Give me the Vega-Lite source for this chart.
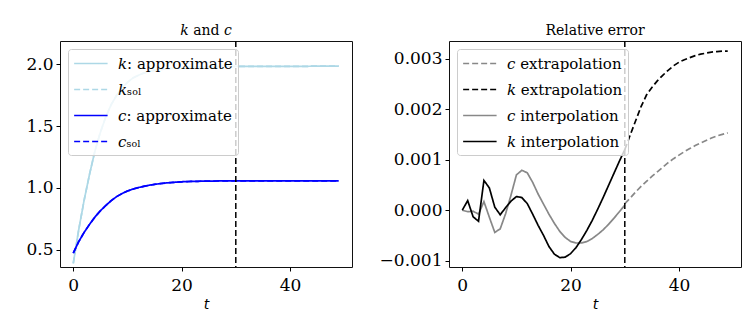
{
  "$schema": "https://vega.github.io/schema/vega-lite/v6.json",
  "background": "white",
  "padding": {"left": 25, "top": 23, "right": 0, "bottom": 0},
  "spacing": 97,
  "bounds": "flush",
  "config": {
    "view": {"stroke": "#111111", "strokeWidth": 1},
    "axis": {"domain": false, "grid": false, "ticks": true, "tickColor": "#000000", "tickSize": 4, "labelFont": "DejaVu Serif", "labelFontSize": 17, "labelColor": "#000000", "labelPadding": 3, "titleFont": "DejaVu Sans", "titleFontStyle": "italic", "titleFontWeight": "normal", "titleFontSize": 14, "titleColor": "#000000", "titlePadding": 4},
    "axisX": {"labelPadding": 6},
    "title": {"font": "DejaVu Serif", "fontSize": 14, "fontWeight": "normal", "color": "#000000", "offset": 2},
    "legend": {"orient": "top-left", "offset": 8, "fillColor": "rgba(255,255,255,0.8)", "strokeColor": "#cccccc", "cornerRadius": 3, "padding": 5, "labelFont": "DejaVu Serif", "labelFontSize": 15, "labelColor": "#000000", "symbolType": "M-1,0H3", "symbolStrokeWidth": 1.6, "symbolSize": 280, "rowPadding": 8, "labelOffset": 26, "labelBaseline": "middle"}
  },
  "datasets": {
    "left": [
      {"t":0,"k":0.39,"ksol":0.39,"c":0.473,"csol":0.473},
      {"t":1,"k":0.66,"ksol":0.66,"c":0.565,"csol":0.565},
      {"t":2,"k":0.90,"ksol":0.90,"c":0.64,"csol":0.64},
      {"t":3,"k":1.11,"ksol":1.11,"c":0.705,"csol":0.705},
      {"t":4,"k":1.30,"ksol":1.30,"c":0.765,"csol":0.765},
      {"t":5,"k":1.45,"ksol":1.45,"c":0.815,"csol":0.815},
      {"t":6,"k":1.575,"ksol":1.575,"c":0.858,"csol":0.858},
      {"t":7,"k":1.675,"ksol":1.675,"c":0.897,"csol":0.897},
      {"t":8,"k":1.75,"ksol":1.75,"c":0.93,"csol":0.93},
      {"t":9,"k":1.81,"ksol":1.81,"c":0.955,"csol":0.955},
      {"t":10,"k":1.855,"ksol":1.855,"c":0.975,"csol":0.975},
      {"t":11,"k":1.89,"ksol":1.89,"c":0.991,"csol":0.991},
      {"t":12,"k":1.912,"ksol":1.912,"c":1.003,"csol":1.003},
      {"t":13,"k":1.93,"ksol":1.93,"c":1.013,"csol":1.013},
      {"t":14,"k":1.943,"ksol":1.943,"c":1.022,"csol":1.022},
      {"t":15,"k":1.952,"ksol":1.952,"c":1.029,"csol":1.029},
      {"t":16,"k":1.959,"ksol":1.959,"c":1.035,"csol":1.035},
      {"t":17,"k":1.964,"ksol":1.964,"c":1.04,"csol":1.04},
      {"t":18,"k":1.968,"ksol":1.968,"c":1.044,"csol":1.044},
      {"t":19,"k":1.971,"ksol":1.971,"c":1.047,"csol":1.047},
      {"t":20,"k":1.974,"ksol":1.974,"c":1.05,"csol":1.05},
      {"t":21,"k":1.976,"ksol":1.976,"c":1.052,"csol":1.052},
      {"t":22,"k":1.978,"ksol":1.978,"c":1.053,"csol":1.053},
      {"t":23,"k":1.979,"ksol":1.979,"c":1.054,"csol":1.054},
      {"t":24,"k":1.98,"ksol":1.98,"c":1.055,"csol":1.055},
      {"t":25,"k":1.981,"ksol":1.981,"c":1.056,"csol":1.056},
      {"t":26,"k":1.982,"ksol":1.982,"c":1.056,"csol":1.056},
      {"t":27,"k":1.982,"ksol":1.982,"c":1.057,"csol":1.057},
      {"t":28,"k":1.983,"ksol":1.983,"c":1.057,"csol":1.057},
      {"t":29,"k":1.983,"ksol":1.983,"c":1.057,"csol":1.057},
      {"t":30,"k":1.984,"ksol":1.984,"c":1.058,"csol":1.058},
      {"t":31,"k":1.984,"ksol":1.984,"c":1.058,"csol":1.058},
      {"t":32,"k":1.984,"ksol":1.984,"c":1.058,"csol":1.058},
      {"t":33,"k":1.985,"ksol":1.985,"c":1.058,"csol":1.058},
      {"t":34,"k":1.985,"ksol":1.985,"c":1.058,"csol":1.058},
      {"t":35,"k":1.985,"ksol":1.985,"c":1.058,"csol":1.058},
      {"t":36,"k":1.985,"ksol":1.985,"c":1.058,"csol":1.058},
      {"t":37,"k":1.985,"ksol":1.985,"c":1.058,"csol":1.058},
      {"t":38,"k":1.985,"ksol":1.985,"c":1.058,"csol":1.058},
      {"t":39,"k":1.985,"ksol":1.985,"c":1.058,"csol":1.058},
      {"t":40,"k":1.985,"ksol":1.985,"c":1.058,"csol":1.058},
      {"t":41,"k":1.985,"ksol":1.985,"c":1.058,"csol":1.058},
      {"t":42,"k":1.985,"ksol":1.985,"c":1.058,"csol":1.058},
      {"t":43,"k":1.985,"ksol":1.985,"c":1.058,"csol":1.058},
      {"t":44,"k":1.986,"ksol":1.986,"c":1.058,"csol":1.058},
      {"t":45,"k":1.986,"ksol":1.986,"c":1.058,"csol":1.058},
      {"t":46,"k":1.986,"ksol":1.986,"c":1.058,"csol":1.058},
      {"t":47,"k":1.986,"ksol":1.986,"c":1.058,"csol":1.058},
      {"t":48,"k":1.986,"ksol":1.986,"c":1.058,"csol":1.058},
      {"t":49,"k":1.986,"ksol":1.986,"c":1.058,"csol":1.058}
    ],
    "right": [
      {"t":0,"cint":0,"kint":0},
      {"t":1,"cint":-0.00003,"kint":0.00019},
      {"t":2,"cint":-0.00002,"kint":-0.00013},
      {"t":3,"cint":-0.00008,"kint":-0.00022},
      {"t":4,"cint":0.00017,"kint":0.00059},
      {"t":5,"cint":-0.00014,"kint":0.00044},
      {"t":6,"cint":-0.00044,"kint":0.00006},
      {"t":7,"cint":-0.00037,"kint":-0.00009},
      {"t":8,"cint":-0.00007,"kint":0.00005},
      {"t":9,"cint":0.0003,"kint":0.00018},
      {"t":10,"cint":0.0007,"kint":0.00027},
      {"t":11,"cint":0.00079,"kint":0.00025},
      {"t":12,"cint":0.00074,"kint":0.00013},
      {"t":13,"cint":0.00055,"kint":-0.00008},
      {"t":14,"cint":0.00032,"kint":-0.0003},
      {"t":15,"cint":0.00012,"kint":-0.0005},
      {"t":16,"cint":-0.00008,"kint":-0.00072},
      {"t":17,"cint":-0.00026,"kint":-0.00087},
      {"t":18,"cint":-0.00042,"kint":-0.00094},
      {"t":19,"cint":-0.00054,"kint":-0.00093},
      {"t":20,"cint":-0.00062,"kint":-0.00086},
      {"t":21,"cint":-0.00065,"kint":-0.00074},
      {"t":22,"cint":-0.00065,"kint":-0.00058},
      {"t":23,"cint":-0.00062,"kint":-0.0004},
      {"t":24,"cint":-0.00056,"kint":-0.0002},
      {"t":25,"cint":-0.00048,"kint":0.00002},
      {"t":26,"cint":-0.00039,"kint":0.00025},
      {"t":27,"cint":-0.00028,"kint":0.00049},
      {"t":28,"cint":-0.00016,"kint":0.00073},
      {"t":29,"cint":-0.00003,"kint":0.00097},
      {"t":30,"cint":0.0001,"kint":0.0012,"cext":0.00013,"kext":0.0012},
      {"t":31,"cext":0.00024,"kext":0.00149},
      {"t":32,"cext":0.00036,"kext":0.00177},
      {"t":33,"cext":0.00047,"kext":0.00205},
      {"t":34,"cext":0.00057,"kext":0.00228},
      {"t":35,"cext":0.00067,"kext":0.00243},
      {"t":36,"cext":0.00076,"kext":0.00256},
      {"t":37,"cext":0.00085,"kext":0.00267},
      {"t":38,"cext":0.00094,"kext":0.00277},
      {"t":39,"cext":0.00102,"kext":0.00286},
      {"t":40,"cext":0.00109,"kext":0.00293},
      {"t":41,"cext":0.00116,"kext":0.00298},
      {"t":42,"cext":0.00122,"kext":0.00302},
      {"t":43,"cext":0.00128,"kext":0.00306},
      {"t":44,"cext":0.00133,"kext":0.00309},
      {"t":45,"cext":0.00138,"kext":0.00311},
      {"t":46,"cext":0.00143,"kext":0.00313},
      {"t":47,"cext":0.00147,"kext":0.00314},
      {"t":48,"cext":0.0015,"kext":0.00315},
      {"t":49,"cext":0.00153,"kext":0.00315}
    ],
    "vline": [{"t":30}]
  },
  "hconcat": [
    {
      "width": 292,
      "height": 226,
      "title": "𝑘 and 𝑐",
      "layer": [
        {
          "data": {"name": "left"},
          "transform": [{"fold": ["k", "ksol", "c", "csol"], "as": ["series", "value"]}],
          "mark": {"type": "line", "strokeWidth": 1.7},
          "encoding": {
            "x": {"field": "t", "type": "quantitative", "scale": {"domain": [-2.45, 51.45], "nice": false, "zero": false}, "axis": {"values": [0, 20, 40], "title": "t"}},
            "y": {"field": "value", "type": "quantitative", "scale": {"domain": [0.36, 2.19], "nice": false, "zero": false}, "axis": {"values": [0.5, 1.0, 1.5, 2.0], "format": ".1f", "title": null}},
            "color": {"field": "series", "type": "nominal", "scale": {"domain": ["k", "ksol", "c", "csol"], "range": ["#add8e6", "#add8e6", "#0000ff", "#0000ff"]}, "legend": {"title": null, "labelFont": "DejaVu Serif", "labelExpr": "datum.label == 'k' ? '𝑘: approximate' : datum.label == 'ksol' ? '𝑘ₛₒₗ' : datum.label == 'c' ? '𝑐: approximate' : '𝑐ₛₒₗ'"}},
            "strokeDash": {"field": "series", "type": "nominal", "scale": {"domain": ["k", "ksol", "c", "csol"], "range": [[1, 0], [6, 3], [1, 0], [6, 3]]}, "legend": {"title": null, "labelFont": "DejaVu Serif", "labelExpr": "datum.label == 'k' ? '𝑘: approximate' : datum.label == 'ksol' ? '𝑘ₛₒₗ' : datum.label == 'c' ? '𝑐: approximate' : '𝑐ₛₒₗ'"}}
          }
        },
        {
          "data": {"name": "vline"},
          "mark": {"type": "rule", "color": "#000000", "strokeWidth": 1.5, "strokeDash": [6, 3]},
          "encoding": {"x": {"field": "t", "type": "quantitative", "scale": {"domain": [-2.45, 51.45], "nice": false, "zero": false}}}
        }
      ]
    },
    {
      "width": 292,
      "height": 226,
      "title": "Relative error",
      "layer": [
        {
          "data": {"name": "right"},
          "transform": [{"fold": ["cext", "kext", "cint", "kint"], "as": ["series", "value"]}, {"filter": "isValid(datum.value)"}],
          "mark": {"type": "line", "strokeWidth": 1.7},
          "encoding": {
            "x": {"field": "t", "type": "quantitative", "scale": {"domain": [-2.45, 51.45], "nice": false, "zero": false}, "axis": {"values": [0, 20, 40], "title": "t"}},
            "y": {"field": "value", "type": "quantitative", "scale": {"domain": [-0.001125, 0.00335], "nice": false, "zero": false}, "axis": {"values": [-0.001, 0, 0.001, 0.002, 0.003], "format": ".3f", "title": null}},
            "color": {"field": "series", "type": "nominal", "scale": {"domain": ["cext", "kext", "cint", "kint"], "range": ["#888888", "#000000", "#888888", "#000000"]}, "legend": {"title": null, "labelFont": "DejaVu Serif", "labelExpr": "datum.label == 'cext' ? '𝑐 extrapolation' : datum.label == 'kext' ? '𝑘 extrapolation' : datum.label == 'cint' ? '𝑐 interpolation' : '𝑘 interpolation'"}},
            "strokeDash": {"field": "series", "type": "nominal", "scale": {"domain": ["cext", "kext", "cint", "kint"], "range": [[6, 3], [6, 3], [1, 0], [1, 0]]}, "legend": {"title": null, "labelFont": "DejaVu Serif", "labelExpr": "datum.label == 'cext' ? '𝑐 extrapolation' : datum.label == 'kext' ? '𝑘 extrapolation' : datum.label == 'cint' ? '𝑐 interpolation' : '𝑘 interpolation'"}}
          }
        },
        {
          "data": {"name": "vline"},
          "mark": {"type": "rule", "color": "#000000", "strokeWidth": 1.5, "strokeDash": [6, 3]},
          "encoding": {"x": {"field": "t", "type": "quantitative", "scale": {"domain": [-2.45, 51.45], "nice": false, "zero": false}}}
        }
      ]
    }
  ],
  "resolve": {"scale": {"color": "independent", "strokeDash": "independent", "y": "independent", "x": "independent"}}
}
